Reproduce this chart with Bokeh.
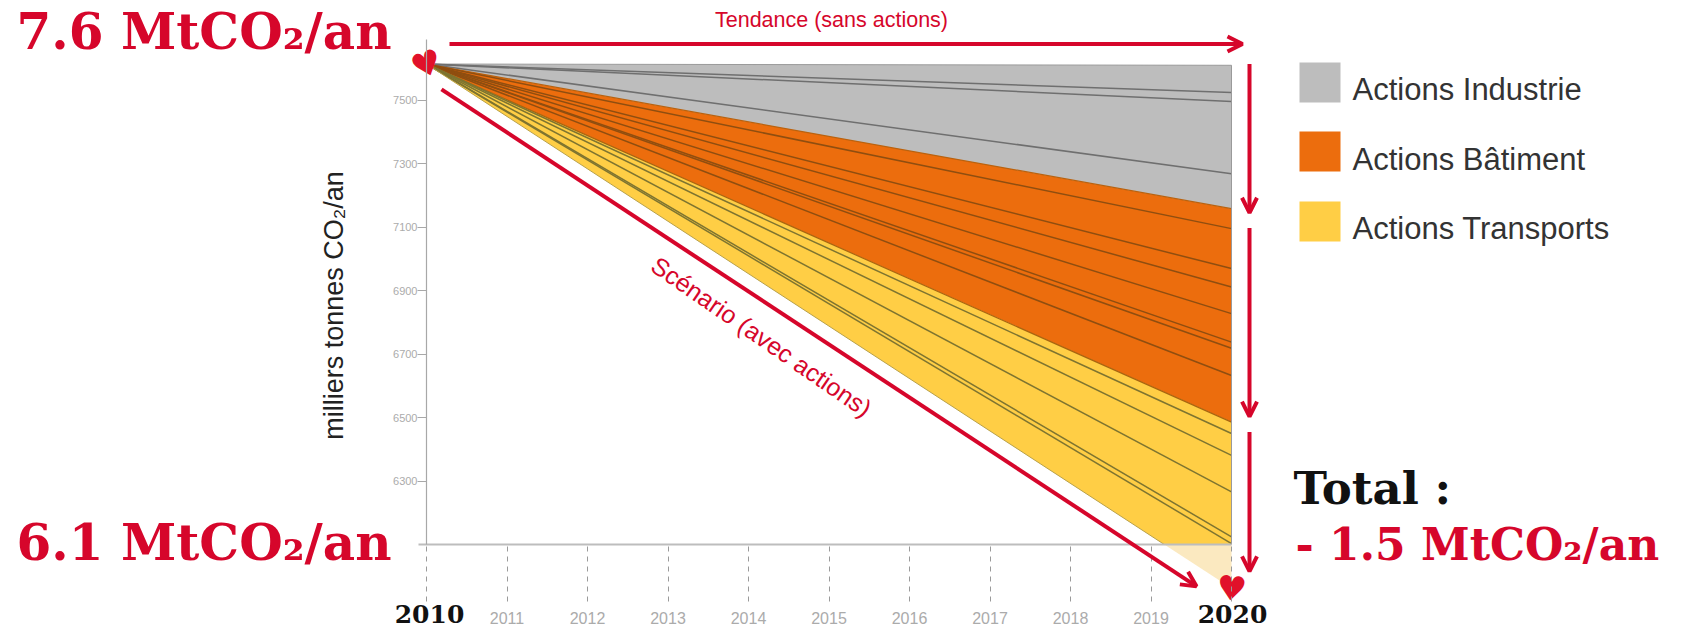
import math
from bokeh.plotting import figure
from bokeh.models import (Range1d, LinearAxis, FixedTicker, Label, Arrow, OpenHead)
from bokeh.core.properties import value
from bokeh.embed import file_html
from bokeh.resources import INLINE

# ---- data -----------------------------------------------------------------
years = [2010, 2011, 2012, 2013, 2014, 2015, 2016, 2017, 2018, 2019, 2020]
y_ticks = [6300, 6500, 6700, 6900, 7100, 7300, 7500]
start_value = 7615
baseline = 6100
industrie_end = [7611, 7525, 7497, 7269, 7159]
batiment_end = [7159, 7096, 6970, 6912, 6828, 6738, 6719, 6633, 6486]
transports_end = [6486, 6450, 6381, 6266, 6124, 6103, 5962]
legend_labels = ["Actions Industrie", "Actions Bâtiment", "Actions Transports"]

# ---- layout ----------------------------------------------------------------
W, H = 1683, 629
PX_2010, PX_2020 = 426.0, 1231.0      # figure px of the two end years
PX_BASE = 544.0                       # figure px of the baseline
PX_PER_VAL = 63.43 / 200
PX_PER_YEAR = (PX_2020 - PX_2010) / 10

RED = "#D6062B"
GRAY, ORANGE, YELLOW, PALE = "#BDBDBD", "#EC6D0D", "#FFCE45", "#FBE9C0"
SLAB = "DejaVu Serif"

x0 = 2010 - PX_2010 / PX_PER_YEAR
x1 = x0 + W / PX_PER_YEAR
y1 = baseline + PX_BASE / PX_PER_VAL
y0 = y1 - H / PX_PER_VAL

p = figure(width=W, height=H, output_backend="svg", toolbar_location=None,
           x_range=Range1d(x0, x1), y_range=Range1d(y0, y1),
           x_axis_location=None, y_axis_location=None,
           min_border=0, min_border_left=0, min_border_right=0,
           min_border_top=0, min_border_bottom=0, outline_line_color=None,
           background_fill_color="white", border_fill_color="white")
p.grid.visible = False


def area(ends):
    return [2010, 2020, 2020], [start_value, ends[0], ends[-1]]


# Areas
gx, gy = area(industrie_end)
p.patch(gx, gy, fill_color=GRAY, line_color=None)
ox, oy = area(batiment_end)
p.patch(ox, oy, fill_color=ORANGE, line_color=None)

scen = transports_end[-1]
x_cross = 2010 + 10 * (start_value - baseline) / (start_value - scen)
p.patch([2010, x_cross, 2020, 2020],
        [start_value, baseline, baseline, transports_end[0]],
        fill_color=YELLOW, line_color=None)
p.patch([x_cross, 2020, 2020], [baseline, baseline, scen],
        fill_color=PALE, line_color=None)


# Separating lines
def lines(ends, color, alpha=1.0, width=1.5):
    p.multi_line([[2010, 2020] for _ in ends],
                 [[start_value, e] for e in ends],
                 line_color=color, line_width=width, line_alpha=alpha)


lines(industrie_end[:1], "#9a9a9a", width=1)
lines(industrie_end[1:-1], "#6f6f6f")
lines(batiment_end[:1], "#B9620F", width=1.2)
lines(batiment_end[1:-1], "#8F4E10")
lines(batiment_end[-1:], "#A8650F", width=1.2)
lines(transports_end[1:-1], "#7E7430")
p.line([2010, x_cross], [start_value, baseline], line_color="#B8A14A", line_width=1)
p.line([2020, 2020], [industrie_end[0], baseline], line_color="#9a9a9a", line_width=1)

# Axes, placed inside the frame
ax_y = LinearAxis(fixed_location=2010, ticker=FixedTicker(ticks=y_ticks),
                  bounds=(baseline, start_value + 76))
ax_y.axis_line_color = "#a8a8a8"
ax_y.axis_line_width = 1.2
ax_y.major_tick_line_color = "#a8a8a8"
ax_y.major_tick_out = 9
ax_y.major_tick_in = 0
ax_y.minor_tick_line_color = None
ax_y.major_label_text_color = "#ababab"
ax_y.major_label_text_font = "Liberation Sans"
ax_y.major_label_text_font_size = "11px"
ax_y.major_label_standoff = 0
p.add_layout(ax_y, "left")

ax_x = LinearAxis(fixed_location=baseline, ticker=FixedTicker(ticks=years))
ax_x.bounds = (2010 - 8 / PX_PER_YEAR, 2020)
ax_x.axis_line_color = "#bdbdbd"
ax_x.axis_line_width = 2
ax_x.major_tick_line_color = "#9a9a9a"
ax_x.major_tick_line_dash = "5 5"
ax_x.major_tick_out = 57
ax_x.major_tick_in = 0
ax_x.minor_tick_line_color = None
ax_x.major_label_overrides = {2010: "", 2020: ""}
ax_x.major_label_text_color = "#ababab"
ax_x.major_label_text_font = "Liberation Sans"
ax_x.major_label_text_font_size = "16px"
ax_x.major_label_standoff = 10
p.add_layout(ax_x, "below")


def label(text, px, py, size, color, font="Liberation Sans", style="normal",
          align="left", baseline_="middle", angle=0.0):
    """px/py are page pixels of the reference."""
    p.add_layout(Label(x=px, y=H - py, x_units="screen", y_units="screen",
                       text=text, text_font=font, text_font_size=f"{size}px",
                       text_font_style=style, text_color=color, text_align=align,
                       text_baseline=baseline_, angle=angle))


# Big annotations
label("7.6 MtCO₂/an", 16, 31, 50, RED, SLAB, "bold")
label("6.1 MtCO₂/an", 16, 542, 50, RED, SLAB, "bold")
label("Total :", 1293, 488, 45, "#111111", SLAB, "bold")
label("- 1.5 MtCO₂/an", 1295, 544, 44, RED, SLAB, "bold")
label("2010", 429, 613, 25, "#111111", SLAB, "bold", align="center")
label("2020", 1232, 613, 25, "#111111", SLAB, "bold", align="center")
label("Tendance (sans actions)", 831, 19, 21.5, RED, align="center")
label("Scénario (avec actions)", 761, 336, 25, RED, align="center",
      angle=-math.atan2(145, 210))
label("milliers tonnes CO₂/an", 333, 305, 27, "#222222", align="center",
      angle=math.pi / 2)


# Arrows
def arrow(xs, ys, xe, ye):
    p.add_layout(Arrow(x_start=xs, y_start=ys, x_end=xe, y_end=ye,
                       line_color=RED, line_width=4,
                       end=OpenHead(size=15, line_color=RED, line_width=4)))


XV = 2020 + 18 / PX_PER_YEAR
top = start_value + 20 / PX_PER_VAL
arrow(2010 + 23 / PX_PER_YEAR, top, 2020 + 11 / PX_PER_YEAR, top)
arrow(XV, start_value, XV, industrie_end[-1] - 13)
arrow(XV, industrie_end[-1] - 61, XV, batiment_end[-1] + 17)
arrow(XV, batiment_end[-1] - 31, XV, scen + 53)
arrow(2010 + 15 / PX_PER_YEAR, start_value - 80,
      2010 + 770 / PX_PER_YEAR, scen + 6)

# Hearts
p.text([2010, 2020], [start_value, scen], text=["♥", "♥"], text_color="#E1112A",
       text_font=value("DejaVu Sans"), text_font_size="34px",
       text_align="center", text_baseline="middle", angle=[0.35, -0.1])


# Legend: swatches and labels (labels sit lower than the swatch centres)
def px_x(v):
    return x0 + v / PX_PER_YEAR


def px_y(v):
    return y1 - v / PX_PER_VAL


sw_tops = [62, 131, 201]
lb_mids = [89, 159, 227.5]
sw_colors = [GRAY, ORANGE, YELLOW]
for name, t, m, c in zip(legend_labels, sw_tops, lb_mids, sw_colors):
    p.quad(left=px_x(1299), right=px_x(1340), top=px_y(t), bottom=px_y(t + 40),
           fill_color=c, line_color=None)
    label(name, 1352, m, 31, "#333333")

open("out.html", "w").write(file_html(p, INLINE))
